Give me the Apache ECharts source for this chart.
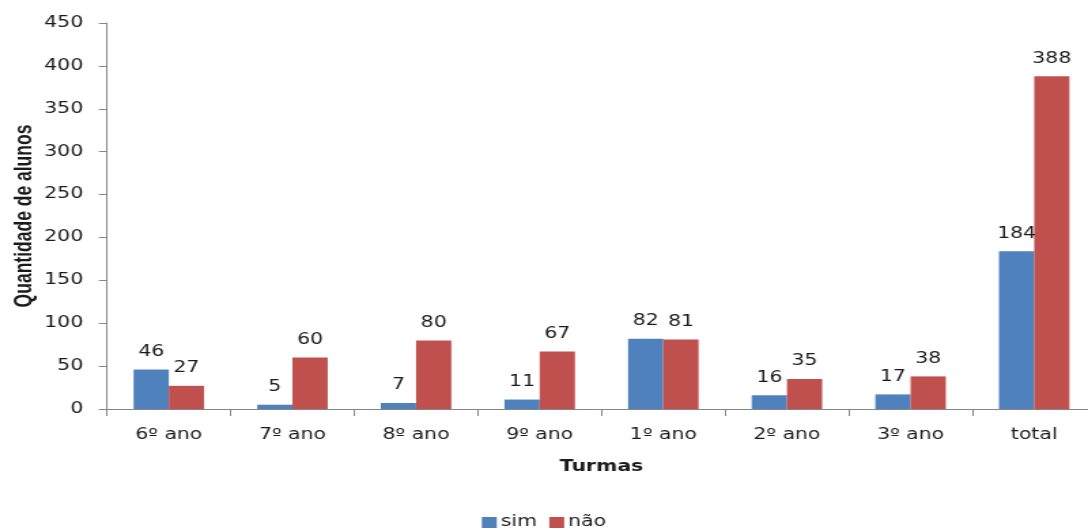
<!DOCTYPE html>
<html>
<head>
<meta charset="utf-8">
<style>
  html, body { margin: 0; padding: 0; background: #fff; overflow: hidden; }
  #wrap { width: 1088px; height: 530px; overflow: hidden; }
  /* the chart is laid out on a narrower canvas and widened, giving the broad lettering */
  #chart { width: 800px; height: 530px; transform: scaleX(1.36); transform-origin: 0 0; }
</style>
<script src="https://cdn.jsdelivr.net/npm/echarts@6/dist/echarts.min.js"></script>
</head>
<body>
<div id="wrap"><div id="chart"></div></div>
<script>
// Turmas (classes) on the category axis
const categories = ['6º ano', '7º ano', '8º ano', '9º ano', '1º ano', '2º ano', '3º ano', 'total'];
// Students answering "sim" / "não" per class
const simValues = [46, 5, 7, 11, 82, 16, 17, 184];
const naoValues = [27, 60, 80, 67, 81, 35, 38, 388];
const yTicks = { min: 0, max: 450, interval: 50 };

const SX = 1.36;              // horizontal widening applied to the chart element
const font = 'DejaVu Sans, Verdana, sans-serif';
const axisGray = '#868686';
const textColor = '#1a1a1a';

const chart = echarts.init(document.getElementById('chart'), null, { renderer: 'canvas' });

const labelStyle = {
  show: true,
  position: 'top',
  distance: 10,
  fontFamily: font,
  fontSize: 15,
  color: textColor
};

chart.setOption({
  animation: false,
  grid: {
    left: 107 / SX,
    width: 989 / SX,
    top: 23,
    bottom: 121,
    containLabel: false,
    outerBoundsMode: 'none'
  },
  legend: {
    top: 510,
    left: 'center',
    itemWidth: 11,
    itemHeight: 11,
    itemGap: 9,
    icon: 'rect',
    textStyle: { fontFamily: font, fontSize: 15, color: textColor, padding: [0, 0, 0, -2] },
    data: ['sim', 'não']
  },
  xAxis: {
    type: 'category',
    data: categories,
    name: 'Turmas',
    nameLocation: 'middle',
    nameGap: 51,
    nameMoveOverlap: false,
    nameTextStyle: { fontFamily: font, fontSize: 15, fontWeight: 'bold', color: textColor },
    axisLine: { lineStyle: { color: axisGray, width: 1 } },
    axisTick: { show: true, alignWithLabel: false, length: 7, lineStyle: { color: axisGray } },
    axisLabel: { fontFamily: font, fontSize: 15, color: textColor, margin: 19 }
  },
  yAxis: {
    type: 'value',
    min: yTicks.min,
    max: yTicks.max,
    interval: yTicks.interval,
    name: 'Quantidade de alunos',
    nameLocation: 'middle',
    nameGap: 52,
    nameRotate: 90,
    nameMoveOverlap: false,
    nameTextStyle: {
      fontFamily: 'Liberation Sans, Arial, sans-serif',
      fontSize: 17.5,
      fontWeight: 'bold',
      color: textColor
    },
    splitLine: { show: false },
    axisLine: { show: true, lineStyle: { color: axisGray, width: 1 } },
    axisTick: { show: true, length: 6, lineStyle: { color: axisGray } },
    axisLabel: { fontFamily: font, fontSize: 15, color: textColor, margin: 17.5 }
  },
  series: [
    {
      name: 'sim',
      type: 'bar',
      data: simValues,
      barGap: '0%',
      barCategoryGap: '43%',
      itemStyle: { color: '#4F81BD' },
      label: labelStyle
    },
    {
      name: 'não',
      type: 'bar',
      data: naoValues,
      barGap: '0%',
      barCategoryGap: '43%',
      itemStyle: { color: '#C0504D' },
      label: labelStyle
    }
  ]
});
</script>
</body>
</html>
